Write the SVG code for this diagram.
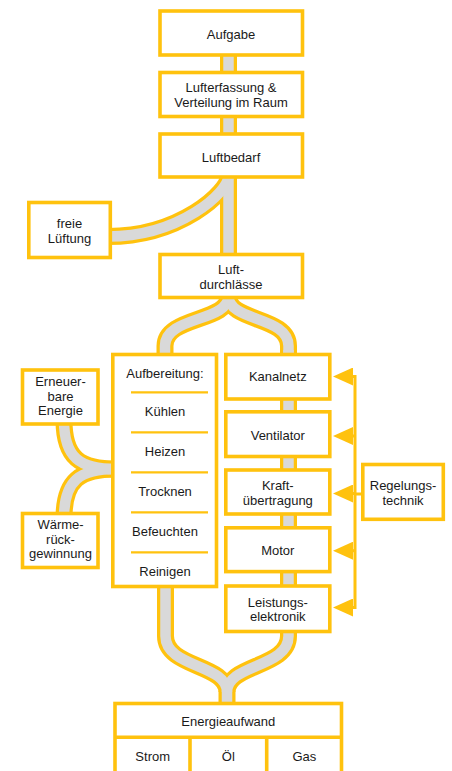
<svg xmlns="http://www.w3.org/2000/svg" width="452" height="771" viewBox="0 0 452 771">
<style>
.box{fill:#fff;stroke:#FFC20E;stroke-width:3.6}
.sep{stroke:#FFC20E;stroke-width:2.2;fill:none}
.bo{fill:none;stroke:#FFC20E;stroke-width:17}
.bi{fill:none;stroke:#D9D9D9;stroke-width:10.5}
.ctl{fill:none;stroke:#FFC20E;stroke-width:3}
text{font-family:"Liberation Sans",Arial,sans-serif;font-size:13px;fill:#1a1a1a;text-anchor:middle}
</style>
<defs>
<marker id="arr" markerWidth="20" markerHeight="18" refX="13" refY="9" orient="auto" markerUnits="userSpaceOnUse">
<path d="M0,0 L20,9 L0,18 z" fill="#FFC20E"/>
</marker>
</defs>
<g id="connectors">
<g class="bo">
<path d="M228.5 50 V262"/>
<path d="M228.5 176 C228.5 192 180 236.5 108 236.5"/>
<path d="M228.5 296 C228.5 322 165 316 165 346 V362"/>
<path d="M228.5 296 C228.5 322 288.5 316 288.5 346 V362"/>
<path d="M288.5 350 V636 C288.5 668 227 664 227 692 V712"/>
<path d="M165.5 580 V636 C165.5 668 227 664 227 692"/>
<path d="M64 420 C64 458 80 469 116 469"/>
<path d="M64 518 C64 480 80 469 116 469"/>
</g>
<g class="bi">
<path d="M228.5 50 V262"/>
<path d="M228.5 176 C228.5 192 180 236.5 108 236.5"/>
<path d="M228.5 296 C228.5 322 165 316 165 346 V362"/>
<path d="M228.5 296 C228.5 322 288.5 316 288.5 346 V362"/>
<path d="M288.5 350 V636 C288.5 668 227 664 227 692 V712"/>
<path d="M165.5 580 V636 C165.5 668 227 664 227 692"/>
<path d="M64 420 C64 458 80 469 116 469"/>
<path d="M64 518 C64 480 80 469 116 469"/>
</g>
<path class="ctl" d="M340 376.5 H355 V607.5 H340"/>
<path class="ctl" d="M355 494 H364"/>
<g class="ctl" marker-end="url(#arr)">
<path d="M355 376.5 H340"/>
<path d="M355 436 H340"/>
<path d="M355 493.5 H340"/>
<path d="M355 550.7 H340"/>
<path d="M355 607.5 H340"/>
</g>
</g>
<g id="aufgabe"><rect class="box" x="160" y="11" width="142.5" height="44"/><text x="231" y="38.5">Aufgabe</text></g>
<g id="lufterfassung"><rect class="box" x="160" y="72.5" width="142.5" height="44"/><text x="231" y="92.2">Lufterfassung &amp;</text><text x="231" y="106.8">Verteilung im Raum</text></g>
<g id="luftbedarf"><rect class="box" x="160" y="134" width="142.5" height="43"/><text x="231" y="161.5">Luftbedarf</text></g>
<g id="freie-lueftung"><rect class="box" x="28.8" y="202.5" width="81.5" height="55"/><text x="69.5" y="227.5">freie</text><text x="69.5" y="242.5">Lüftung</text></g>
<g id="luftdurchlaesse"><rect class="box" x="160" y="254.5" width="142.5" height="43"/><text x="231" y="274.2">Luft-</text><text x="231" y="288.8">durchlässe</text></g>
<g id="aufbereitung"><rect class="box" x="112.8" y="354.5" width="103.7" height="232"/>
<text x="165" y="378">Aufbereitung:</text>
<path class="sep" d="M131 392.3 H208 M131 432.3 H208 M131 472.3 H208 M131 512.3 H208 M131 552.3 H208"/>
<text x="165" y="416">Kühlen</text><text x="165" y="456">Heizen</text><text x="165" y="496">Trocknen</text><text x="165" y="536">Befeuchten</text><text x="165" y="576">Reinigen</text></g>
<g id="erneuerbare-energie"><rect class="box" x="22.5" y="370" width="75.5" height="54"/><text x="60.5" y="386">Erneuer-</text><text x="60.5" y="400.6">bare</text><text x="60.5" y="415.2">Energie</text></g>
<g id="waermerueckgewinnung"><rect class="box" x="22.5" y="513.5" width="75.5" height="54"/><text x="60.5" y="529">Wärme-</text><text x="60.5" y="543.6">rück-</text><text x="60.5" y="558.2">gewinnung</text></g>
<g id="kanalnetz"><rect class="box" x="225.8" y="354.5" width="104" height="44.5"/><text x="277.8" y="381">Kanalnetz</text></g>
<g id="ventilator"><rect class="box" x="225.8" y="411.8" width="104" height="44.7"/><text x="277.8" y="439.5">Ventilator</text></g>
<g id="kraftuebertragung"><rect class="box" x="225.8" y="470" width="104" height="44"/><text x="277.8" y="490">Kraft-</text><text x="277.8" y="505">übertragung</text></g>
<g id="motor"><rect class="box" x="225.8" y="527.8" width="104" height="43.8"/><text x="277.8" y="555">Motor</text></g>
<g id="leistungselektronik"><rect class="box" x="225.8" y="586" width="104" height="45.5"/><text x="277.8" y="606.6">Leistungs-</text><text x="277.8" y="621.2">elektronik</text></g>
<g id="regelungstechnik"><rect class="box" x="362.8" y="464.5" width="80.5" height="54.8"/><text x="403" y="490">Regelungs-</text><text x="403" y="504.6">technik</text></g>
<g id="energieaufwand"><rect class="box" x="115" y="703.5" width="226.5" height="80"/>
<path class="sep" style="stroke-width:3.6" d="M115 737.3 H341.5 M190 737.3 V785 M266.7 737.3 V785"/>
<text x="228.3" y="726">Energieaufwand</text><text x="152.7" y="760.5">Strom</text><text x="228.3" y="760.5">Öl</text><text x="304.3" y="760.5">Gas</text></g>
</svg>
